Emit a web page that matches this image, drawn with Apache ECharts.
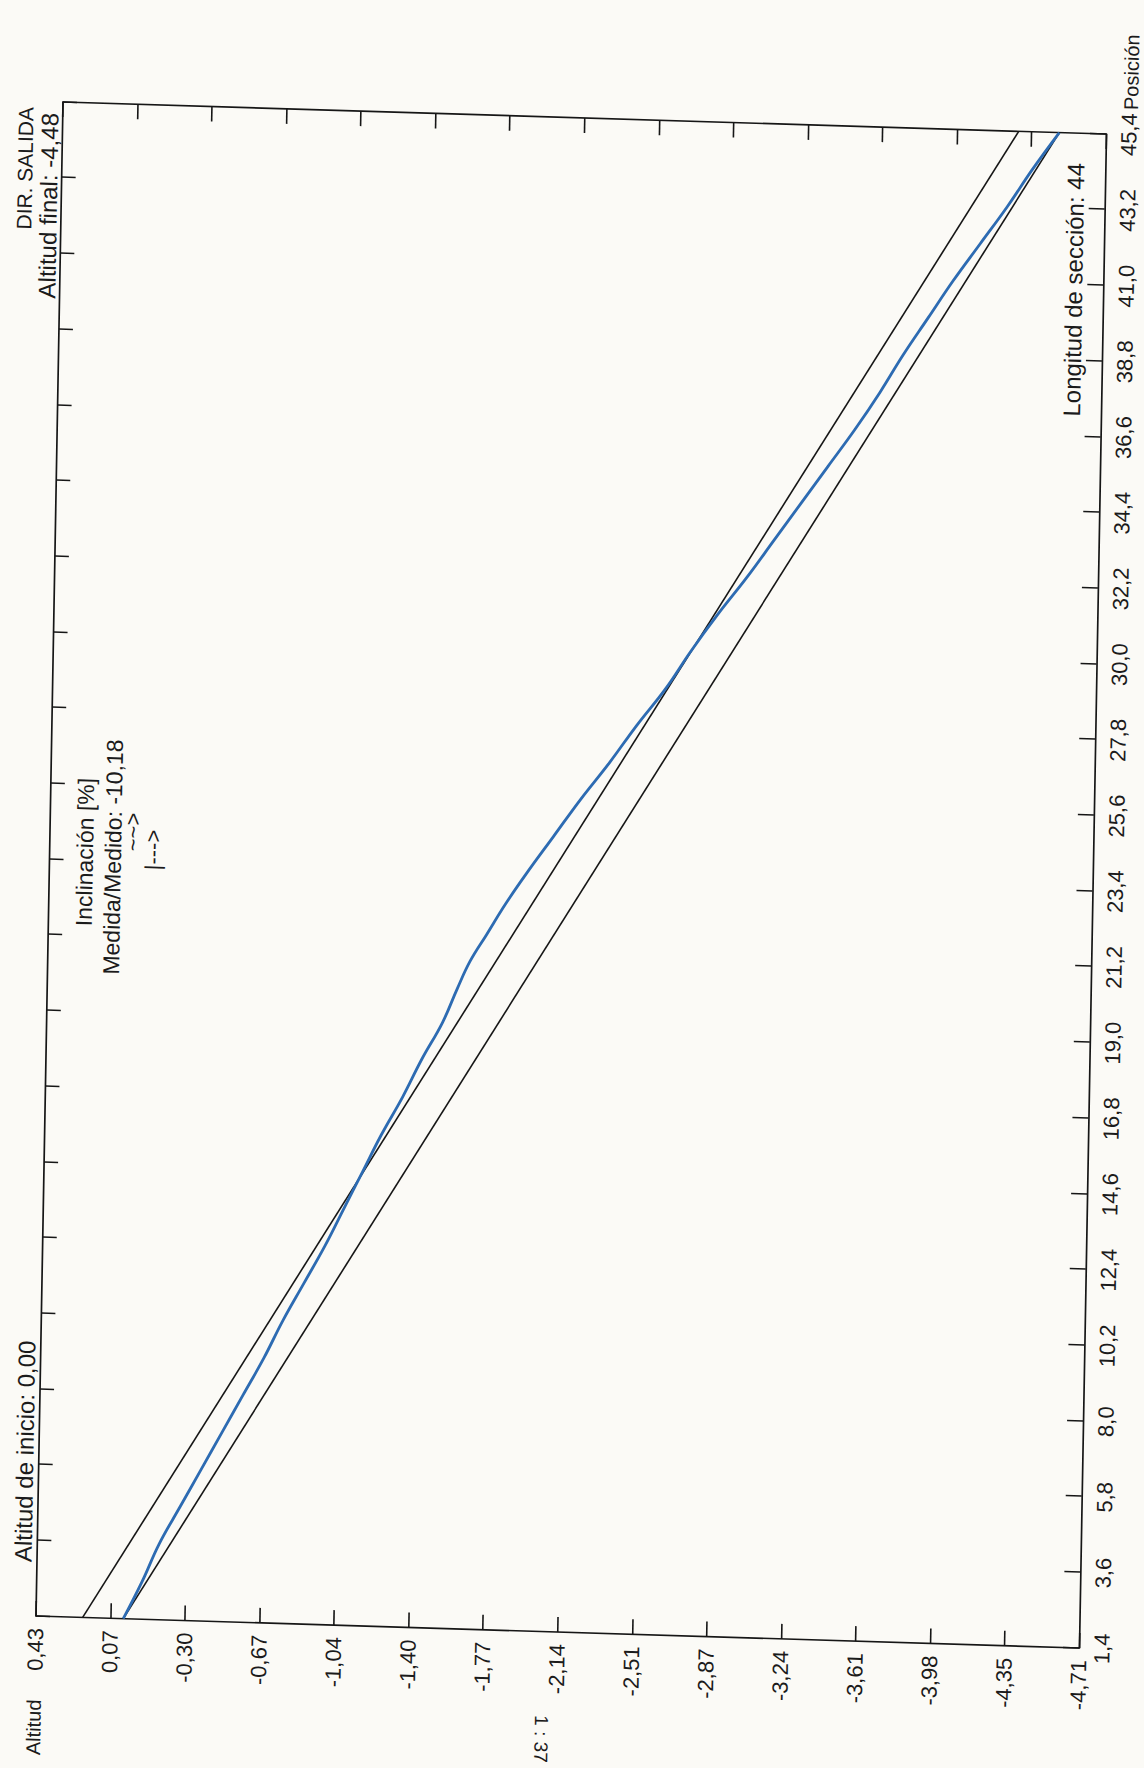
<!DOCTYPE html>
<html>
<head>
<meta charset="utf-8">
<script src="https://cdn.jsdelivr.net/npm/echarts@6/dist/echarts.min.js"></script>
<style>
html,body{margin:0;padding:0;width:1144px;height:1768px;overflow:hidden;background:#fbfaf6;}
#chart{position:absolute;left:0;top:0;width:1840px;height:1160px;transform-origin:0 0;}
</style>
</head>
<body>
<div id="chart"></div>
<script>
// ---------------- data ----------------
const posLabels = ['1,4','3,6','5,8','8,0','10,2','12,4','14,6','16,8','19,0','21,2','23,4','25,6','27,8','30,0','32,2','34,4','36,6','38,8','41,0','43,2','45,4'];
const altLabels = ['0,43','0,07','-0,30','-0,67','-1,04','-1,40','-1,77','-2,14','-2,51','-2,87','-3,24','-3,61','-3,98','-4,35','-4,71'];
const posMin = 1.4, posMax = 45.4;
const altMax = 0.43, altMin = -4.71;

const measuredPos = [1.4,2.5,3.6,4.7,5.8,6.9,8.0,9.1,10.2,11.3,12.4,13.5,14.6,15.7,16.8,17.9,19.0,20.0,20.8,21.6,22.5,23.4,24.5,25.6,26.7,27.8,28.9,30.0,31.1,32.2,33.3,34.4,35.5,36.6,37.7,38.8,39.9,41.0,42.1,43.2,44.3,45.4];
const measuredAlt = [0.00,-0.09,-0.17,-0.27,-0.37,-0.47,-0.57,-0.67,-0.76,-0.86,-0.96,-1.05,-1.14,-1.23,-1.33,-1.42,-1.52,-1.59,-1.65,-1.73,-1.82,-1.92,-2.05,-2.18,-2.32,-2.45,-2.59,-2.71,-2.84,-2.98,-3.11,-3.24,-3.37,-3.50,-3.62,-3.73,-3.85,-3.97,-4.10,-4.23,-4.35,-4.48];

const designPos = [1.4, 45.4];
const designAlt = [0.00, -4.48];
const upperPos = [1.4, 45.4];
const upperAlt = [0.20, -4.28];

// ---------------- layout (rotated, slightly skewed scan) ----------------
const W = 1840, H = 1160, GL = 200, GT = 60, GW = 1514, GH = 1043.5;
const BL = [36, 1616], TLc = [63, 102], BRc = [1079, 1648];
const ex = [(TLc[0]-BL[0])/GW, (TLc[1]-BL[1])/GW];
const ey = [(BRc[0]-BL[0])/GH, (BRc[1]-BL[1])/GH];
const tx = BL[0] - GL*ex[0] - GT*ey[0];
const ty = BL[1] - GL*ex[1] - GT*ey[1];
const el = document.getElementById('chart');
el.style.transform = 'matrix(' + [ex[0], ex[1], ey[0], ey[1], tx, ty].join(',') + ')';
function refToUp(X, Y) {
  const dx = X - tx, dy = Y - ty;
  const det = ex[0]*ey[1] - ey[0]*ex[1];
  return [(dx*ey[1] - ey[0]*dy)/det, (ex[0]*dy - dx*ex[1])/det];
}

const posTicks = posLabels.map(s => parseFloat(s.replace(',', '.')));
const altTicks = altLabels.map((s, i) => altMax - i*(altMax - altMin)/(altLabels.length - 1));
const fmtPos = v => { let b = 0, bd = 1e9; posTicks.forEach((t, i) => { const d = Math.abs(t - v); if (d < bd) { bd = d; b = i; } }); return posLabels[b]; };
const fmtAlt = v => { let b = 0, bd = 1e9; altTicks.forEach((t, i) => { const d = Math.abs(t - v); if (d < bd) { bd = d; b = i; } }); return altLabels[b]; };

const INK = '#161616';
const FONT = '"Liberation Sans", Arial, sans-serif';
const NARROW = '"Liberation Sans Narrow", "Arial Narrow", "Liberation Sans", Arial, sans-serif';

function axisCommon(extra) {
  return Object.assign({
    type: 'value',
    axisLine: { show: true, onZero: false, lineStyle: { color: INK, width: 1.7 } },
    splitLine: { show: false },
    silent: true
  }, extra);
}

function txt(text, X, Y, size, align, rot, family) {
  const p = refToUp(X, Y);
  return {
    type: 'text', x: p[0], y: p[1], rotation: rot || 0, silent: true,
    style: { text: text, fill: '#1b1b1b', fontSize: size, fontFamily: family || FONT, align: align || 'center', verticalAlign: 'middle' }
  };
}

const chart = echarts.init(el, null, { renderer: 'svg', width: W, height: H });
chart.setOption({
  backgroundColor: 'transparent',
  animation: false,
  grid: { left: GL, top: GT, width: GW, height: GH, show: false },
  xAxis: [
    axisCommon({ position: 'bottom', min: posMin, max: posMax,
      axisTick: { show: true, inside: true, length: 16, customValues: posTicks, lineStyle: { color: INK, width: 1.6 } },
      axisLabel: { show: true, customValues: posTicks, formatter: fmtPos, margin: 12, fontSize: 22, fontFamily: NARROW, color: '#1b1b1b' } }),
    axisCommon({ position: 'top', min: posMin, max: posMax,
      axisTick: { show: true, inside: true, length: 14, customValues: posTicks, lineStyle: { color: INK, width: 1.6 } },
      axisLabel: { show: false } })
  ],
  yAxis: [
    axisCommon({ position: 'left', min: altMin, max: altMax,
      axisTick: { show: true, inside: true, length: 15, customValues: altTicks, lineStyle: { color: INK, width: 1.6 } },
      axisLabel: { show: true, customValues: altTicks, formatter: fmtAlt, margin: 12, fontSize: 22, fontFamily: FONT, color: '#1b1b1b' } }),
    axisCommon({ position: 'right', min: altMin, max: altMax,
      axisTick: { show: true, inside: true, length: 15, customValues: altTicks, lineStyle: { color: INK, width: 1.6 } },
      axisLabel: { show: false } })
  ],
  series: [
    { type: 'line', name: 'Tolerancia', data: upperPos.map((p, i) => [p, upperAlt[i]]), symbol: 'none', silent: true,
      lineStyle: { color: INK, width: 1.6 } },
    { type: 'line', name: 'Teórico', data: designPos.map((p, i) => [p, designAlt[i]]), symbol: 'none', silent: true,
      lineStyle: { color: INK, width: 1.6 } },
    { type: 'line', name: 'Medido', data: measuredPos.map((p, i) => [p, measuredAlt[i]]), symbol: 'none', smooth: 0.4, silent: true,
      lineStyle: { color: '#2d6bb2', width: 2.8 } }
  ],
  graphic: [
    txt('DIR. SALIDA', 26, 107, 21, 'right'),
    txt('Altitud final: -4,48', 50, 113, 24, 'right'),
    txt('Altitud de inicio: 0,00', 23, 1562, 24, 'left'),
    txt('Inclinación [%]', 85, 852, 23, 'center'),
    txt('Medida/Medido: -10,18', 113, 857, 23, 'center'),
    txt('~~>', 133, 832, 22, 'center'),
    txt('|--->', 153, 850, 22, 'center'),
    txt('Longitud de sección: 44', 1076, 163, 24, 'right'),
    txt('Posición', 1131, 110, 20, 'left'),
    txt('Altitud', 33, 1755, 20, 'left'),
    txt('1 : 37', 541, 1739, 19, 'center', Math.PI),
    txt('1 : 212', 1156, 890, 20, 'center', Math.PI)
  ]
});
</script>
</body>
</html>
